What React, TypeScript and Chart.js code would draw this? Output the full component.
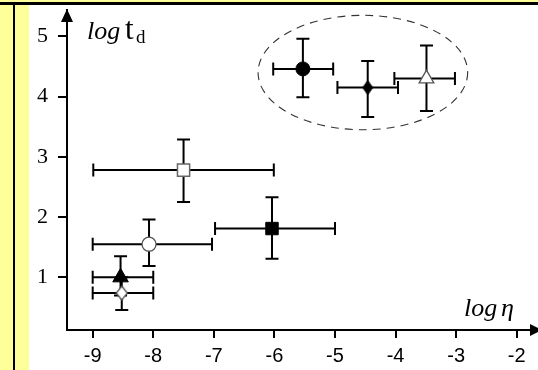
import React, { useEffect, useRef } from 'react';
import { Chart, registerables } from 'chart.js';

Chart.register(...registerables);

// ---- data ----
const markerNames = ['filledCircle', 'filledDiamond', 'openTriangle', 'openSquare', 'openCircle', 'filledSquare', 'filledTriangle', 'openDiamond'];
const xValues = [-5.53, -4.46, -3.49, -7.50, -8.07, -6.04, -8.54, -8.52];
const yValues = [4.46, 4.15, 4.30, 2.78, 1.55, 1.81, 1.00, 0.74];
const xLow = [-6.02, -4.96, -4.02, -8.99, -9.00, -6.98, -9.00, -9.00];
const xHigh = [-5.03, -3.96, -3.02, -6.01, -7.03, -5.00, -8.00, -8.00];
const yLow = [3.99, 3.66, 3.76, 2.25, 1.19, 1.31, 0.70, 0.46];
const yHigh = [4.96, 4.59, 4.85, 3.29, 1.96, 2.33, 1.35, 1.00];
const xTicks = [-9, -8, -7, -6, -5, -4, -3, -2];
const yTicks = [1, 2, 3, 4, 5];
const ellipseCenter = [-4.54, 4.40];
const ellipseRadii = [1.73, 0.95];

const SERIF = "'Liberation Serif', 'Times New Roman', serif";
const SANS = "'Liberation Sans', Arial, sans-serif";

function makeDiamond(w: number, h: number, fill: string, stroke: string, lw: number) {
  const c = document.createElement('canvas');
  c.width = w + 2;
  c.height = h + 2;
  const ctx = c.getContext('2d')!;
  ctx.beginPath();
  ctx.moveTo(c.width / 2, 1);
  ctx.lineTo(c.width - 1, c.height / 2);
  ctx.lineTo(c.width / 2, c.height - 1);
  ctx.lineTo(1, c.height / 2);
  ctx.closePath();
  ctx.fillStyle = fill;
  ctx.fill();
  ctx.lineWidth = lw;
  ctx.strokeStyle = stroke;
  ctx.stroke();
  return c;
}

const zeroPad = (axis: any) => {
  axis.paddingTop = 0;
  axis.paddingBottom = 0;
  axis.paddingLeft = 0;
  axis.paddingRight = 0;
};

export default function App() {
  const ref = useRef<HTMLCanvasElement | null>(null);

  useEffect(() => {
    if (!ref.current) return;

    const filledDiamond = makeDiamond(10, 14, '#000', '#000', 1);
    const openDiamond = makeDiamond(11, 14, '#fff', '#555', 1.3);

    const styleMap: Record<string, any> = {
      filledCircle: { style: 'circle', r: 7, fill: '#000', stroke: '#000', bw: 1 },
      filledDiamond: { style: filledDiamond, r: 7, fill: '#000', stroke: '#000', bw: 1 },
      openTriangle: { style: 'triangle', r: 8.5, fill: '#fff', stroke: '#555', bw: 1.3 },
      openSquare: { style: 'rect', r: 8.6, fill: '#fff', stroke: '#666', bw: 1.5 },
      openCircle: { style: 'circle', r: 7, fill: '#fff', stroke: '#555', bw: 1.3 },
      filledSquare: { style: 'rect', r: 8.8, fill: '#000', stroke: '#000', bw: 1 },
      filledTriangle: { style: 'triangle', r: 9, fill: '#000', stroke: '#000', bw: 1 },
      openDiamond: { style: openDiamond, r: 7, fill: '#fff', stroke: '#555', bw: 1.3 },
    };
    const st = markerNames.map((n) => styleMap[n]);

    const background = {
      id: 'background',
      beforeDraw(chart: any) {
        const { ctx, width, height } = chart;
        ctx.save();
        ctx.fillStyle = '#FFFF99';
        ctx.fillRect(0, 0, width, height);
        ctx.fillStyle = '#FFFFFF';
        ctx.fillRect(29, 5, width - 29, height - 5);
        ctx.fillStyle = '#000000';
        ctx.fillRect(0, 2, width, 3);
        ctx.fillRect(13, 2, 2, height - 2);
        ctx.restore();
      },
    };

    const errorBars = {
      id: 'errorBars',
      beforeDatasetsDraw(chart: any) {
        const { ctx, scales } = chart;
        const xs = scales.x;
        const ys = scales.y;
        const cap = 6.5;
        ctx.save();
        ctx.strokeStyle = '#000';
        ctx.lineWidth = 2;
        ctx.lineCap = 'butt';
        // ellipse
        const ecx = xs.getPixelForValue(ellipseCenter[0]);
        const ecy = ys.getPixelForValue(ellipseCenter[1]);
        const erx = Math.abs(xs.getPixelForValue(ellipseCenter[0] + ellipseRadii[0]) - ecx);
        const ery = Math.abs(ys.getPixelForValue(ellipseCenter[1] + ellipseRadii[1]) - ecy);
        ctx.save();
        ctx.setLineDash([8, 6]);
        ctx.lineWidth = 1.1;
        ctx.strokeStyle = '#333';
        ctx.beginPath();
        ctx.ellipse(ecx, ecy, erx, ery, 0, 0, Math.PI * 2);
        ctx.stroke();
        ctx.restore();

        for (let i = 0; i < xValues.length; i++) {
          const px = xs.getPixelForValue(xValues[i]);
          const py = ys.getPixelForValue(yValues[i]);
          const x1 = xs.getPixelForValue(xLow[i]);
          const x2 = xs.getPixelForValue(xHigh[i]);
          const y1 = ys.getPixelForValue(yLow[i]);
          const y2 = ys.getPixelForValue(yHigh[i]);
          ctx.beginPath();
          ctx.moveTo(x1, py); ctx.lineTo(x2, py);
          ctx.moveTo(x1, py - cap); ctx.lineTo(x1, py + cap);
          ctx.moveTo(x2, py - cap); ctx.lineTo(x2, py + cap);
          ctx.moveTo(px, y1); ctx.lineTo(px, y2);
          ctx.moveTo(px - cap, y1); ctx.lineTo(px + cap, y1);
          ctx.moveTo(px - cap, y2); ctx.lineTo(px + cap, y2);
          ctx.stroke();
        }
        ctx.restore();
      },
    };

    const axisDecor = {
      id: 'axisDecor',
      afterDraw(chart: any) {
        const { ctx, chartArea } = chart;
        const L = chartArea.left;
        const T = chartArea.top;
        const B = chartArea.bottom;
        const R = chartArea.right;
        ctx.save();
        ctx.fillStyle = '#000';
        // y arrow
        ctx.beginPath();
        ctx.moveTo(L, T - 1);
        ctx.lineTo(L - 6, T + 12);
        ctx.lineTo(L + 6, T + 12);
        ctx.closePath();
        ctx.fill();
        // x arrow
        ctx.beginPath();
        ctx.moveTo(R + 4, B);
        ctx.lineTo(R - 8, B - 6);
        ctx.lineTo(R - 8, B + 6);
        ctx.closePath();
        ctx.fill();

        ctx.textBaseline = 'alphabetic';
        ctx.textAlign = 'left';
        // y title: log t_d
        ctx.font = `italic 26px ${SERIF}`;
        ctx.fillText('log', L + 20, 39);
        ctx.font = `31px ${SERIF}`;
        ctx.fillText('t', L + 58, 39);
        ctx.font = `19px ${SERIF}`;
        ctx.fillText('d', L + 69, 43);
        // x title: log η
        ctx.font = `italic 26px ${SERIF}`;
        ctx.fillText('log', R - 74, B - 14);
        ctx.fillText('η', R - 37, B - 14);
        ctx.restore();
      },
    };

    const chart = new Chart(ref.current, {
      type: 'scatter',
      data: {
        datasets: [
          {
            data: xValues.map((x, i) => ({ x, y: yValues[i] })),
            pointStyle: st.map((s) => s.style),
            pointRadius: st.map((s) => s.r),
            pointHoverRadius: st.map((s) => s.r),
            pointBackgroundColor: st.map((s) => s.fill),
            pointBorderColor: st.map((s) => s.stroke),
            pointBorderWidth: st.map((s) => s.bw),
            showLine: false,
          } as any,
        ],
      },
      options: {
        animation: false,
        responsive: false,
        events: [],
        layout: { autoPadding: false, padding: { top: 10, right: 0, left: 0, bottom: 0 } },
        plugins: {
          legend: { display: false },
          tooltip: { enabled: false },
        },
        scales: {
          x: {
            type: 'linear',
            min: -9.424,
            max: -1.649,
            afterBuildTicks: (axis: any) => {
              axis.ticks = xTicks.map((v) => ({ value: v }));
            },
            afterFit: (axis: any) => {
              axis.height = 40;
              zeroPad(axis);
            },
            grid: {
              drawOnChartArea: false,
              drawTicks: true,
              tickLength: 8,
              tickColor: '#000',
              lineWidth: 2,
            },
            border: { display: true, color: '#000', width: 2 },
            ticks: {
              color: '#000',
              padding: 6,
              maxRotation: 0,
              autoSkip: false,
              font: { family: SANS, size: 20 },
              callback: (v: any) => String(v),
            },
          },
          y: {
            type: 'linear',
            min: 0.126,
            max: 5.438,
            afterBuildTicks: (axis: any) => {
              axis.ticks = yTicks.map((v) => ({ value: v }));
            },
            afterFit: (axis: any) => {
              axis.width = 67;
              zeroPad(axis);
            },
            grid: {
              drawOnChartArea: false,
              drawTicks: true,
              tickLength: 9,
              tickColor: '#000',
              lineWidth: 2,
            },
            border: { display: true, color: '#000', width: 2 },
            ticks: {
              color: '#000',
              padding: 10,
              autoSkip: false,
              font: { family: SERIF, size: 22 },
              callback: (v: any) => String(v),
            },
          },
        },
      },
      plugins: [background, errorBars, axisDecor],
    } as any);

    return () => chart.destroy();
  }, []);

  return (
    <div style={{ position: 'fixed', left: 0, top: 0, width: 538, height: 370 }}>
      <canvas ref={ref} width={538} height={370} style={{ display: 'block' }} />
    </div>
  );
}
